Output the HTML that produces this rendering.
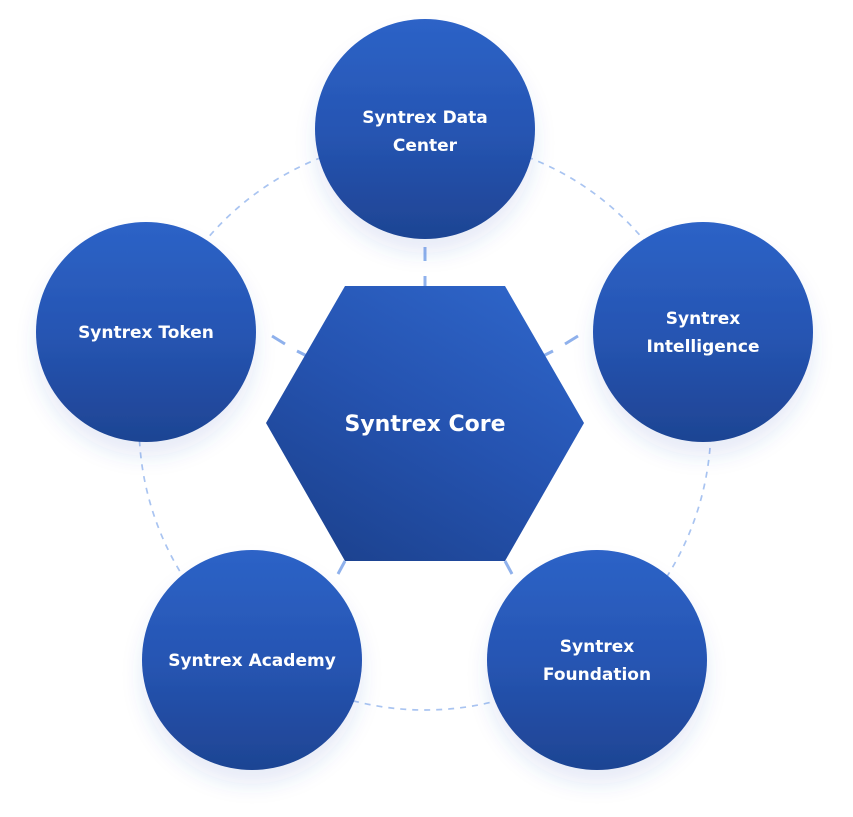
<!DOCTYPE html>
<html>
<head>
<meta charset="utf-8">
<style>
  html, body { margin:0; padding:0; background:#ffffff; }
  body { width:853px; height:817px; overflow:hidden; }
  svg { display:block; }
  text { font-family: "DejaVu Sans", "Liberation Sans", sans-serif; font-weight:bold; fill:#ffffff; }
</style>
</head>
<body>
<svg width="853" height="817" viewBox="0 0 853 817" xmlns="http://www.w3.org/2000/svg">
  <defs>
    <linearGradient id="cg" x1="0" y1="0" x2="0" y2="1">
      <stop offset="0" stop-color="#2d63c7"/>
      <stop offset="0.5" stop-color="#2655b3"/>
      <stop offset="1" stop-color="#1e4493"/>
    </linearGradient>
    <linearGradient id="hg" x1="0.85" y1="0" x2="0.2" y2="1">
      <stop offset="0" stop-color="#2e65c9"/>
      <stop offset="0.5" stop-color="#2553b0"/>
      <stop offset="1" stop-color="#1c428f"/>
    </linearGradient>
    <filter id="sh" x="-30%" y="-30%" width="160%" height="170%">
      <feDropShadow dx="0" dy="14" stdDeviation="10" flood-color="#2a5bc0" flood-opacity="0.12"/>
    </filter>
  </defs>

  <!-- dashed orbit -->
  <circle cx="425" cy="424" r="286" fill="none" stroke="#a9c4f1" stroke-width="1.7" stroke-dasharray="6 6"/>

  <!-- connectors -->
  <g stroke="#8fb1ec" stroke-width="3" stroke-linecap="butt">
    <line x1="425" y1="247" x2="425" y2="261"/>
    <line x1="425" y1="276" x2="425" y2="287"/>
    <line x1="272" y1="336" x2="285" y2="344"/>
    <line x1="297" y1="351" x2="307" y2="356"/>
    <line x1="578" y1="336" x2="565" y2="344"/>
    <line x1="553" y1="351" x2="543" y2="356"/>
    <line x1="345" y1="561" x2="338" y2="574"/>
    <line x1="505" y1="561" x2="512" y2="574"/>
  </g>

  <!-- hexagon -->
  <polygon points="266,423 345,286 505,286 584,423 505,561 345,561" fill="url(#hg)"/>
  <text x="425" y="431" font-size="22" text-anchor="middle">Syntrex Core</text>

  <!-- circles -->
  <g filter="url(#sh)">
    <circle cx="425" cy="129" r="110" fill="url(#cg)"/>
    <circle cx="146" cy="332" r="110" fill="url(#cg)"/>
    <circle cx="703" cy="332" r="110" fill="url(#cg)"/>
    <circle cx="252" cy="660" r="110" fill="url(#cg)"/>
    <circle cx="597" cy="660" r="110" fill="url(#cg)"/>
  </g>

  <g font-size="17" text-anchor="middle">
    <text x="425" y="123">Syntrex Data</text>
    <text x="425" y="151">Center</text>
    <text x="146" y="338">Syntrex Token</text>
    <text x="703" y="324">Syntrex</text>
    <text x="703" y="352">Intelligence</text>
    <text x="252" y="666">Syntrex Academy</text>
    <text x="597" y="652">Syntrex</text>
    <text x="597" y="680">Foundation</text>
  </g>
</svg>
</body>
</html>
